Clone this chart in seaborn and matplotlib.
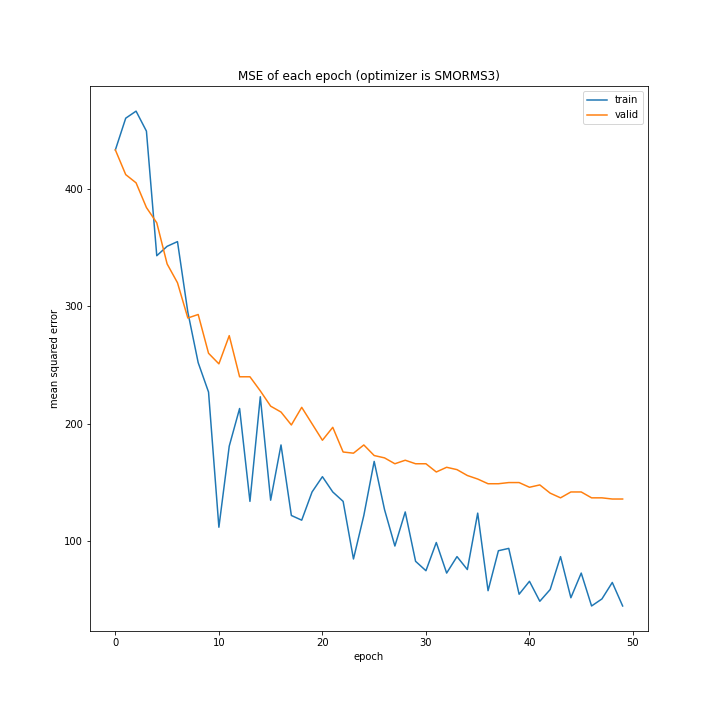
import matplotlib
matplotlib.use("Agg")
import matplotlib.pyplot as plt
import seaborn as sns
import numpy as np

train = [433,460,466,449,343,351,355,295,252,227,112,181,213,134,223,135,182,122,118,142,
         155,142,134,85,122,168,127,96,125,83,75,99,73,87,76,124,58,92,94,55,
         66,49,59,87,52,73,45,51,65,45]
valid = [433,412,405,384,371,336,320,290,293,260,251,275,240,240,228,215,210,199,214,200,
         186,197,176,175,182,173,171,166,169,166,166,159,163,161,156,153,149,149,150,150,
         146,148,141,137,142,142,137,137,136,136]
epochs = np.arange(len(train))

fig, ax = plt.subplots(figsize=(10, 10), dpi=72)
fig.subplots_adjust(bottom=0.124)
sns.lineplot(x=epochs, y=train, ax=ax, label="train", color="#1f77b4")
sns.lineplot(x=epochs, y=valid, ax=ax, label="valid", color="#ff7f0e")
ax.set_title("MSE of each epoch (optimizer is SMORMS3)")
ax.set_xlabel("epoch")
ax.set_ylabel("mean squared error")
ax.legend(loc="upper right")
fig.savefig("out.png", dpi=72)
